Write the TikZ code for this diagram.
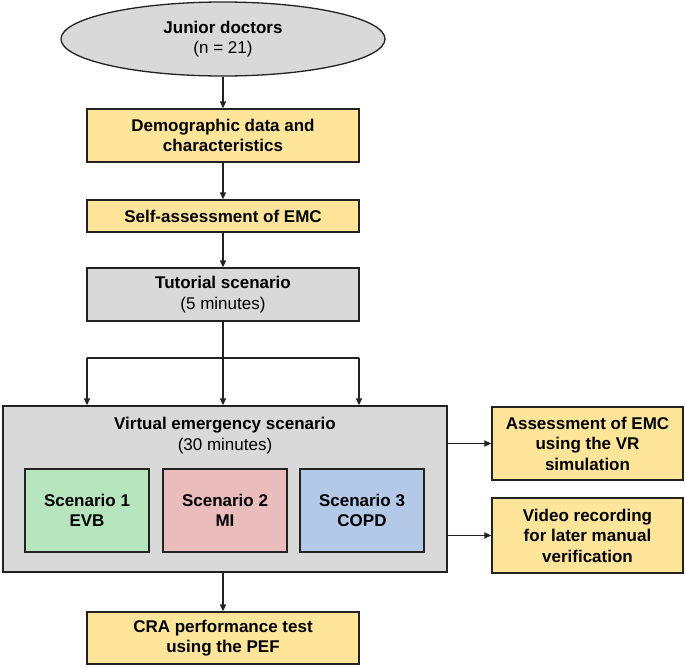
\documentclass[tikz,border=0pt]{standalone}
\usepackage{fontspec}
\setmainfont{Liberation Sans}
\usetikzlibrary{shapes.geometric,arrows.meta}
\definecolor{boxyellow}{HTML}{FFE599}
\definecolor{boxgray}{HTML}{D9D9D9}
\definecolor{boxgreen}{HTML}{B7E6BE}
\definecolor{boxred}{HTML}{EABCBC}
\definecolor{boxblue}{HTML}{B4C8E8}
\definecolor{linecol}{HTML}{222222}
\tikzset{
  base/.style={draw=linecol, line width=1.3pt, align=center, inner sep=0pt,
    font=\fontsize{17}{20.5}\selectfont},
  ybox/.style={base, rectangle, fill=boxyellow, minimum width=#1, minimum height=53},
  gbox/.style={base, rectangle, fill=boxgray},
  sbox/.style={base, rectangle, minimum width=124, minimum height=83},
  arr/.style={draw=linecol, line width=1.3pt, -{Triangle[length=7pt,width=6pt]}},
  conn/.style={draw=linecol, line width=1.3pt},
}
\begin{document}
\begin{tikzpicture}[x=1pt,y=-1pt]
\useasboundingbox (0,0) rectangle (685,667);
\node[base, ellipse, fill=boxgray, minimum width=324, minimum height=74] (jd) at (223,39)
  {\textbf{Junior doctors}\\(n = 21)};
\node[ybox=272] (demo) at (223,135.5) {\textbf{Demographic data and}\\\textbf{characteristics}};
\node[ybox=272, minimum height=32] (self) at (223,216) {\textbf{Self-assessment of EMC}};
\node[gbox, minimum width=272, minimum height=53] (tut) at (223,294.5)
  {\textbf{Tutorial scenario}\\(5 minutes)};
\node[gbox, minimum width=444, minimum height=166] (virt) at (225,489) {};
\node[align=center, inner sep=0pt, font=\fontsize{17}{21}\selectfont] (vtitle) at (225,436)
  {\textbf{Virtual emergency scenario}\\(30 minutes)};
\node[sbox, fill=boxgreen] (s1) at (87,510.5) {\textbf{Scenario 1}\\\textbf{EVB}};
\node[sbox, fill=boxred] (s2) at (225,510.5) {\textbf{Scenario 2}\\\textbf{MI}};
\node[sbox, fill=boxblue] (s3) at (362,510.5) {\textbf{Scenario 3}\\\textbf{COPD}};
\node[ybox=272, minimum height=52] (cra) at (223,638) {\textbf{CRA performance test}\\\textbf{using the PEF}};
\node[ybox=191, minimum height=73] (assess) at (587.5,443.5)
  {\textbf{Assessment of EMC}\\\textbf{using the VR}\\\textbf{simulation}};
\node[ybox=191, minimum height=75] (video) at (587.5,535.5)
  {\textbf{Video recording}\\\textbf{for later manual}\\\textbf{verification}};

\coordinate (sl) at (87,358);
\coordinate (sr) at (359,358);
\draw[arr] (jd) -- (demo);
\draw[arr] (demo) -- (self);
\draw[arr] (self) -- (tut);
\draw[conn] (sl) -- (sr);
\draw[arr] (tut.south) -- (tut.south |- virt.north);
\draw[arr] (sl) -- (sl |- virt.north);
\draw[arr] (sr) -- (sr |- virt.north);
\draw[arr] (virt.east |- assess) -- (assess.west);
\draw[arr] (virt.east |- video) -- (video.west);
\draw[arr] (virt.south -| cra) -- (cra.north);
\end{tikzpicture}
\end{document}
